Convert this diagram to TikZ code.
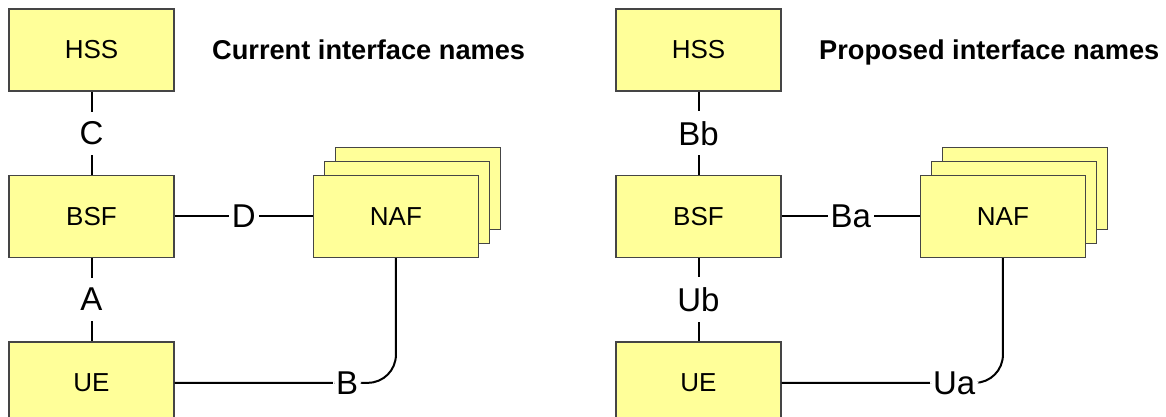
\documentclass[tikz,border=0pt]{standalone}
\usepackage{fontspec}
\setmainfont{Liberation Sans}
\usepackage{tikz}
\usetikzlibrary{positioning,shadows}

\definecolor{boxfill}{HTML}{FFFF99}
\definecolor{boxline}{HTML}{454545}

\tikzset{
  entity/.style={draw=boxline, fill=boxfill, line width=1.4pt, minimum width=165pt,
    minimum height=82pt, inner sep=0pt, font=\fontsize{26}{30}\selectfont},
  stack/.style={entity,
    copy shadow={shadow xshift=22pt, shadow yshift=28pt, fill=boxfill, draw=boxline},
    copy shadow={shadow xshift=11pt, shadow yshift=14pt, fill=boxfill, draw=boxline}},
  iface/.style={fill=white, inner xsep=3pt, inner ysep=10pt, font=\fontsize{33}{38}\selectfont},
  heading/.style={anchor=base west, inner sep=0pt, font=\fontsize{27.2}{32}\selectfont\bfseries},
  link/.style={line width=2pt}
}

\begin{document}
\begin{tikzpicture}[x=1pt, y=1pt, node distance=83pt]
  \useasboundingbox (0,0) rectangle (1166,-416);

  % current names
  \node[entity]                             (hss)  at (91.5,-50) {HSS};
  \node[entity, below=of hss]               (bsf)  {BSF};
  \node[entity, below=of bsf]               (ue)   {UE};
  \node[stack, right=138pt of bsf]          (naf)  {NAF};
  \node[heading]                            (cur)  at (212,-59) {Current interface names};

  \draw[link] (hss) -- node[iface] (c) {C} (bsf);
  \draw[link] (bsf) -- node[iface] (a) {A} (ue);
  \draw[link] (bsf) -- node[iface] (d) {D} (naf);
  \draw[link, rounded corners=28pt] (ue) -| node[iface, pos=0.39] (b) {B} (naf);

  % proposed names
  \node[entity]                             (hss2) at (698.5,-50) {HSS};
  \node[entity, below=of hss2]              (bsf2) {BSF};
  \node[entity, below=of bsf2]              (ue2)  {UE};
  \node[stack, right=138pt of bsf2]         (naf2) {NAF};
  \node[heading]                            (prop) at (819,-59) {Proposed interface names};

  \draw[link] (hss2) -- node[iface] (bb) {Bb} (bsf2);
  \draw[link] (bsf2) -- node[iface] (ub) {Ub} (ue2);
  \draw[link] (bsf2) -- node[iface] (ba) {Ba} (naf2);
  \draw[link, rounded corners=28pt] (ue2) -| node[iface, pos=0.39] (ua) {Ua} (naf2);
\end{tikzpicture}
\end{document}
